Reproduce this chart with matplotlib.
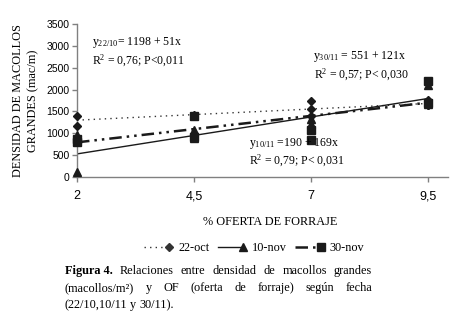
import numpy as np
import matplotlib
matplotlib.use('Agg')
import matplotlib.pyplot as plt
from matplotlib.legend_handler import HandlerLine2D

plt.rcParams['font.family'] = 'Liberation Serif'
plt.rcParams['mathtext.fontset'] = 'custom'
plt.rcParams['mathtext.rm'] = 'Liberation Serif'
plt.rcParams['mathtext.it'] = 'Liberation Serif:italic'

# offered forage levels (x axis)
of_levels = [2, 4.5, 7, 9.5]
x_ticklabels = ['2', '4,5', '7', '9,5']

# observed tiller densities per date (x, y pairs)
oct22_x = [2, 2, 4.5, 4.5, 7, 7, 7, 9.5, 9.5, 9.5]
oct22_y = [1400, 1170, 1400, 1420, 1730, 1560, 1400, 1750, 1650, 1640]
nov10_x = [2, 2, 4.5, 4.5, 7, 7, 9.5, 9.5]
nov10_y = [120, 960, 1080, 900, 1330, 1220, 2100, 1680]
nov30_x = [2, 2, 4.5, 4.5, 7, 7, 9.5, 9.5]
nov30_y = [880, 800, 1400, 920, 1070, 840, 2200, 1700]

# regression coefficients (intercept, slope)
fit_oct22 = (1198, 51)
fit_nov10 = (190, 169)
fit_nov30 = (551, 121)


class EndMarker(HandlerLine2D):
    # marker drawn at the right end of the legend line
    def create_artists(self, *args, **kw):
        arts = super().create_artists(*args, **kw)
        for a in arts:
            a.set_markevery([len(a.get_xdata()) - 1])
        return arts


fig = plt.figure(figsize=(4.6, 3.28), dpi=100)
ax = fig.add_axes([77 / 460, 1 - 177 / 328, 371 / 460, 153 / 328])

xl = np.array([of_levels[0], of_levels[-1]])
mk = dict(color='#1a1a1a', linestyle='none', clip_on=False, zorder=3)
ax.plot(oct22_x, oct22_y, marker='D', markersize=4, **mk)
ax.plot(nov10_x, nov10_y, marker='^', markersize=5.5, **mk)
ax.plot(nov30_x, nov30_y, marker='s', markersize=5.5, **mk)

l1, = ax.plot(xl, fit_oct22[0] + fit_oct22[1] * xl, color='#333333', lw=1.0,
              linestyle=(0, (1, 3)), marker='D', markersize=4, markevery=[])
l2, = ax.plot(xl, fit_nov10[0] + fit_nov10[1] * xl, color='#1a1a1a', lw=1.0,
              linestyle='-', marker='^', markersize=5.5, markevery=[])
l3, = ax.plot(xl, fit_nov30[0] + fit_nov30[1] * xl, color='#1a1a1a', lw=1.8,
              linestyle=(0, (5, 2, 1, 2, 1, 2)), marker='s', markersize=5.5, markevery=[])

ax.set_xlim(2, 9.93)
ax.set_ylim(0, 3500)
ax.set_xticks(of_levels)
ax.set_xticklabels(x_ticklabels, fontfamily='Liberation Sans', fontsize=9)
ax.set_yticks(np.arange(0, 3501, 500))
for lab in ax.get_yticklabels():
    lab.set_fontfamily('Liberation Sans')
    lab.set_fontsize(7.5)
for s in ['top', 'right']:
    ax.spines[s].set_visible(False)
for s in ['left', 'bottom']:
    ax.spines[s].set_color('#808080')
    ax.spines[s].set_linewidth(1.0)
ax.tick_params(axis='both', direction='out', length=3.5, color='#808080', width=1.0)
ax.tick_params(axis='x', pad=6)
ax.tick_params(axis='y', pad=2)

ax.set_ylabel('DENSIDAD DE MACOLLOS\nGRANDES (mac/m)', fontsize=8.8, labelpad=5,
              linespacing=1.35)
fig.text(270 / 460, 1 - 222 / 328, '% OFERTA DE FORRAJE', fontsize=8.8,
         ha='center', va='center')

# regression equations
fs = 8.5
fig.text(92 / 460, 1 - 43 / 328, r'y$_{\mathrm{22/10}}$= 1198 + 51x', fontsize=fs, va='center')
fig.text(92 / 460, 1 - 61 / 328, r'R$^{\mathrm{2}}$ = 0,76; P<0,011', fontsize=fs, va='center')
fig.text(313 / 460, 1 - 57 / 328, r'y$_{\mathrm{30/11}}$ = 551 + 121x', fontsize=fs, va='center')
fig.text(314 / 460, 1 - 75 / 328, r'R$^{\mathrm{2}}$ = 0,57; P< 0,030', fontsize=fs, va='center')
fig.text(249 / 460, 1 - 143 / 328, r'y$_{\mathrm{10/11}}$ =190 + 169x', fontsize=fs, va='center')
fig.text(249 / 460, 1 - 161 / 328, r'R$^{\mathrm{2}}$ = 0,79; P< 0,031', fontsize=fs, va='center')

fig.legend([l1, l2, l3], ['22-oct', '10-nov', '30-nov'], loc='center',
           bbox_to_anchor=(254 / 460, 1 - 248 / 328), ncol=3, frameon=False,
           fontsize=8.8, handlelength=2.1, handletextpad=0.7, columnspacing=0.7,
           numpoints=1, handler_map={l1: EndMarker(), l2: EndMarker(), l3: EndMarker()})

# caption, manually justified
renderer = fig.canvas.get_renderer()
x0, x1 = 65 / 460, 372 / 460
cap_fs = 8.8


def justify(words, y, weights, full=True):
    arts = [fig.text(0, y, w, fontsize=cap_fs, fontweight=b, va='center')
            for w, b in zip(words, weights)]
    widths = [a.get_window_extent(renderer).width / fig.bbox.width for a in arts]
    if full and len(words) > 1:
        gap = (x1 - x0 - sum(widths)) / (len(words) - 1)
    else:
        gap = 2.6 / 460
    x = x0
    for a, w in zip(arts, widths):
        a.set_x(x)
        x += w + gap


line1 = ['Figura 4.', 'Relaciones', 'entre', 'densidad', 'de', 'macollos', 'grandes']
justify(line1, 1 - 271 / 328, ['bold'] + ['normal'] * 6)
line2 = ['(macollos/m²)', 'y', 'OF', '(oferta', 'de', 'forraje)', 'según', 'fecha']
justify(line2, 1 - 288 / 328, ['normal'] * len(line2))
line3 = ['(22/10,10/11', 'y', '30/11).']
justify(line3, 1 - 305 / 328, ['normal'] * len(line3), full=False)

fig.savefig('out.png', dpi=100)
